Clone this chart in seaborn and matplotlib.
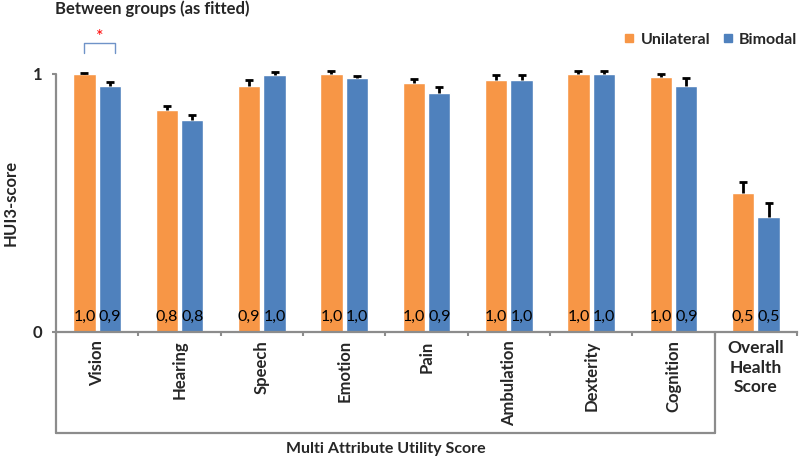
import matplotlib
matplotlib.use("Agg")
import matplotlib.pyplot as plt
import pandas as pd
import seaborn as sns
from matplotlib.lines import Line2D

categories = ["Vision", "Hearing", "Speech", "Emotion", "Pain", "Ambulation",
              "Dexterity", "Cognition", "Overall\nHealth\nScore"]
groups = ["Unilateral", "Bimodal"]
unilateral = [1.00, 0.86, 0.955, 1.00, 0.965, 0.975, 1.00, 0.99, 0.54]
bimodal = [0.955, 0.82, 0.995, 0.985, 0.925, 0.975, 1.00, 0.955, 0.445]
unilateral_err = [0.003, 0.015, 0.02, 0.01, 0.015, 0.02, 0.01, 0.01, 0.043]
bimodal_err = [0.015, 0.02, 0.012, 0.008, 0.025, 0.02, 0.012, 0.03, 0.054]
unilateral_lbl = ["1,0", "0,8", "0,9", "1,0", "1,0", "1,0", "1,0", "1,0", "0,5"]
bimodal_lbl = ["0,9", "0,8", "1,0", "1,0", "0,9", "1,0", "1,0", "0,9", "0,5"]

orange = "#F79646"
blue = "#4F81BD"
grey = "#8C8C8C"

sns.set_style("white")
plt.rcParams["font.family"] = ["Lato", "DejaVu Sans"]

df = pd.DataFrame({
    "category": categories * 2,
    "group": [groups[0]] * len(categories) + [groups[1]] * len(categories),
    "value": unilateral + bimodal,
})

fig = plt.figure(figsize=(8, 4.58), dpi=100)
ax = fig.add_axes([56 / 800, 126 / 458, 741 / 800, 258 / 458])

sns.barplot(data=df, x="category", y="value", hue="group", hue_order=groups,
            palette=[orange, blue], width=0.62, gap=0.12, errorbar=None,
            legend=False, saturation=1, ax=ax)

ax.set_xlim(-0.5, 8.5)
ax.set_ylim(0, 1)

# error bars (upper only) and value labels inside bars
for cont, errs, lbls in zip(ax.containers, [unilateral_err, bimodal_err],
                            [unilateral_lbl, bimodal_lbl]):
    xs = [p.get_x() + p.get_width() / 2 for p in cont.patches]
    ys = [p.get_height() for p in cont.patches]
    eb = ax.errorbar(xs, ys, yerr=[[0] * len(errs), errs], fmt="none",
                     ecolor="black", elinewidth=2, capsize=3.2, capthick=2,
                     clip_on=False, zorder=5)
    eb[1][0].set_visible(False)
    for c in list(eb[1]) + list(eb[2]):
        c.set_clip_on(False)
    for x, t in zip(xs, lbls):
        ax.text(x, 0.057, t, ha="center", va="center", fontsize=11.5, color="black")

# significance bracket
v0 = ax.containers[0].patches[0]
v1 = ax.containers[1].patches[0]
x0 = v0.get_x() + v0.get_width() / 2
x1 = v1.get_x() + v1.get_width() / 2 + 0.06
ax.plot([x0, x0, x1, x1], [1.08, 1.12, 1.12, 1.08], color="#6F93C8", lw=1,
        clip_on=False)
ax.text((x0 + x1) / 2, 1.145, "*", color="red", ha="center", va="center",
        fontsize=13)

# spines and ticks
for s in ["top", "right", "left"]:
    ax.spines[s].set_visible(False)
ax.spines["bottom"].set_color(grey)
ax.spines["bottom"].set_linewidth(1.6)

xt = ax.get_xaxis_transform()
ax.plot([-0.5, -0.5], [1, -0.391], color=grey, lw=1.6, transform=xt, clip_on=False)
ax.plot([-0.5, 7.5], [-0.391, -0.391], color=grey, lw=1.6, transform=xt, clip_on=False)
ax.plot([7.5, 7.5], [0, -0.391], color=grey, lw=1.6, transform=xt, clip_on=False)

ax.set_yticks([0, 1])
ax.set_yticklabels(["0", "1"], fontweight="bold", fontsize=12)
ax.tick_params(axis="y", left=True, length=3, width=1.5, color=grey, pad=7)

ax.set_xticks(range(len(categories)))
ax.set_xticks([k + 0.5 for k in range(len(categories))], minor=True)
ax.set_xticklabels(categories, fontweight="bold", fontsize=12)
for i, lab in enumerate(ax.get_xticklabels()):
    if i < len(categories) - 1:
        lab.set_rotation(90)
    else:
        lab.set_linespacing(1.25)
        lab.set_fontsize(12.5)
ax.tick_params(axis="x", which="major", length=0, pad=6)
ax.tick_params(axis="x", which="minor", bottom=True, length=3, width=1.5,
               color=grey, direction="out")

ax.set_xlabel("")
ax.set_ylabel("HUI3-score", fontweight="bold", fontsize=12)
ax.yaxis.set_label_coords(-0.051, 0.5)

ax.text(3.5, -0.452, "Multi Attribute Utility Score", transform=xt,
        ha="center", va="center", fontweight="bold", fontsize=11.5)

fig.text(152 / 800, 1 - 9 / 458, "Between groups (as fitted)", ha="center",
         va="center", fontweight="bold", fontsize=12)

handles = [Line2D([], [], marker="s", ls="none", color=c, markersize=6) for c in [orange, blue]]
leg = ax.legend(handles, groups, loc="center right", bbox_to_anchor=(1.0, 1.132),
                ncol=2, frameon=False, handletextpad=0.3, columnspacing=0.7,
                borderpad=0, borderaxespad=0, handlelength=0.8,
                prop={"weight": "bold", "size": 11.5})

fig.savefig("out.png", dpi=100)
